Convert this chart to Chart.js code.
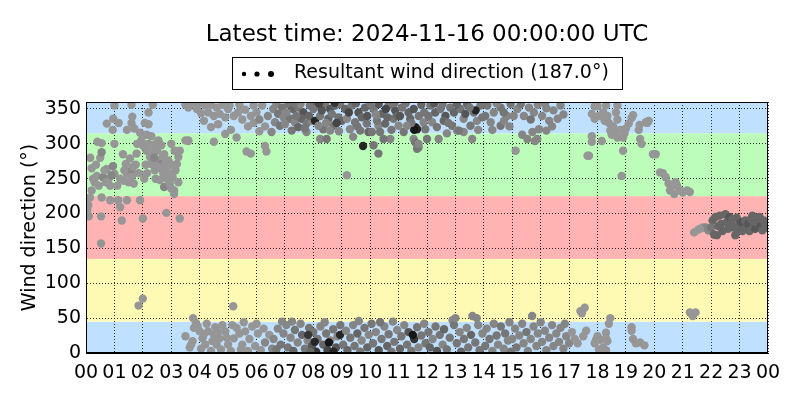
<!DOCTYPE html>
<html><head><meta charset="utf-8">
<script src="https://cdn.jsdelivr.net/npm/chart.js@4/dist/chart.umd.min.js"></script>
<style>html,body{margin:0;padding:0;background:#fff}#wrap{width:800px;height:400px}</style>
</head><body><div id="wrap"><canvas id="c" width="800" height="400"></canvas></div>
<script>
const titleText = "Latest time: 2024-11-16 00:00:00 UTC";
const legendText = "Resultant wind direction (187.0°)";
const yAxisTitle = "Wind direction (°)";
const xTicks = [0,1,2,3,4,5,6,7,8,9,10,11,12,13,14,15,16,17,18,19,20,21,22,23,24];
const xTickLabels = ["00","01","02","03","04","05","06","07","08","09","10","11","12","13","14","15","16","17","18","19","20","21","22","23","00"];
const yTicks = [0,50,100,150,200,250,300,350];
const bandEdges = [0,45,135,225,315,360];
const bandColors = ["#bfe0ff","#fffab3","#ffb3b3","#bbfdb9","#bfe0ff"];

// [hour of day, direction (deg), speed class 1..9]
const wd_00_03 = [[0.05,205,1],[0.1,196,1],[0.08,212,1],[0.14,223,1],[0.2,233,1],[0.25,250,1],[0.2,265,1],[0.38,254,1],[0.35,270,1],[0.5,280,1],[0.55,288,2],[0.55,301,1],[0.73,329,1],[0.53,157,1],[0.53,196,1],[0.55,223,1],[0.85,219,1],[0.73,264,1],[0.8,250,1],[0.85,240,1],[0.96,336,1],[0.94,320,1],[1.0,300,1],[0.95,268,2],[1.0,257,1],[0.3,245,1],[0.45,240,1],[0.6,252,2],[0.65,262,1],[0.9,255,2],[0.7,245,1],[0.15,280,1],[0.4,303,1],
[1.13,219,1],[1.26,190,1],[1.2,209,1],[1.44,219,1],[1.33,247,1],[1.44,257,1],[1.4,271,1],[1.55,279,1],[1.6,262,2],[1.62,253,1],[1.68,243,1],[1.65,267,1],[1.44,320,1],[1.6,330,1],[1.63,339,1],[1.7,322,1],[1.9,316,1],[1.95,305,1],[1.78,286,1],[1.9,219,1],[2.0,193,1],[1.85,68,1],[2.0,78,1],[1.6,356,1],[1.0,355,1],[1.2,250,1],[1.1,240,1],[1.35,262,1],[1.5,245,1],[1.75,270,1],[1.85,258,1],[1.15,330,1],[1.8,300,1],[1.3,285,1],
[2.07,330,1],[2.2,328,1],[2.13,313,1],[2.3,311,1],[2.02,297,1],[2.13,290,1],[2.2,300,1],[2.25,281,1],[2.33,285,1],[2.45,300,1],[2.5,290,1],[2.55,305,1],[2.65,298,1],[2.75,285,1],[2.3,271,1],[2.42,262,1],[2.55,276,1],[2.65,271,2],[2.72,257,1],[2.83,264,1],[2.9,276,1],[2.45,250,1],[2.6,248,1],[2.75,238,2],[2.95,243,1],[2.95,257,1],[2.83,201,1],[2.35,356,1],[2.2,345,1],[2.1,270,1],[2.4,280,2],[2.6,265,1],[2.8,272,1],[2.05,250,1],[2.15,258,1],[2.5,268,1],[2.7,282,1],[2.85,250,1],[2.38,295,1],
[3.0,236,1],[3.05,252,1],[3.1,233,1],[3.1,228,1],[3.15,262,1],[3.2,271,1],[3.25,281,1],[3.3,290,1],[3.25,245,1],[3.3,193,1],[3.5,305,1],[3.6,305,1],[3.02,270,1],[3.12,290,1],[3.0,300,1]];

const wd_03_06 = [[3.5,356,1],[3.75,357,1],[4.0,358,1],[4.05,344,1],[3.6,352,1],[3.9,350,1],[4.2,355,1],[4.4,356,1],[4.6,352,1],[4.8,356,1],[5.0,350,1],[4.3,345,1],[4.5,340,1],[4.7,343,1],[4.9,338,1],[4.4,324,1],[4.5,303,1],[3.6,304,1],[4.9,314,1],[5.3,309,1],[5.1,320,1],[5.65,289,1],[5.8,286,1],[5.4,356,1],[5.6,349,1],[5.8,340,1],[5.9,330,1],[5.2,340,1],[5.5,335,1],[5.7,325,1],[6.0,345,1],[6.1,335,2],[6.2,355,1],[6.3,325,1],[6.4,340,2],[6.3,297,1],[6.35,289,1],[4.15,333,1],[4.65,328,1],[5.05,355,1],[5.35,345,1],[5.9,355,1],[6.1,318,1],
[3.77,50,1],[3.8,36,1],[4.0,31,1],[4.1,21,1],[4.2,12,1],[4.3,31,1],[4.4,3,1],[4.5,26,1],[4.6,12,1],[4.7,21,1],[4.8,40,1],[4.9,31,1],[5.0,12,1],[5.1,3,1],[5.2,21,1],[5.3,36,1],[5.5,12,1],[5.6,31,1],[5.7,3,1],[3.5,24,1],[3.7,12,1],[3.65,8,1],[3.87,43,1],[3.93,38,1],[3.75,17,1],[4.05,6,1],[4.25,42,1],[4.45,17,1],[4.55,37,1],[4.75,5,1],[4.95,22,1],[5.15,40,1],[5.4,28,1],[5.45,5,1],[5.75,20,1],[5.85,38,1],[5.95,10,1],[6.05,28,1],[6.15,4,1],[6.25,35,1],[6.3,15,2],[6.45,26,1],[6.55,6,2],[5.18,67,1],[6.0,42,1],[5.55,44,1],[4.65,30,1],[4.15,27,1]];

const wd_06_09 = [[6.59,350,2],[6.76,343,3],[6.65,331,2],[6.82,326,3],[6.53,317,2],[6.7,357,2],[6.9,352,3],[6.95,338,2],
[7.12,357,3],[7.29,350,4],[7.47,352,3],[7.65,345,5],[7.88,355,3],[7.18,336,3],[7.35,331,2],[7.59,336,4],[7.76,329,3],[7.94,333,2],[7.24,319,3],[7.47,324,4],[7.76,317,2],[7.05,345,2],[7.4,340,3],[7.55,357,2],[7.7,322,3],[7.85,340,4],[7.3,358,3],[7.0,328,2],
[8.06,333,8],[8.24,307,2],[8.47,307,3],[8.35,321,3],[8.12,355,4],[8.41,357,3],[8.59,350,5],[8.76,355,4],[8.94,357,3],[8.24,340,3],[8.53,336,4],[8.88,338,3],[8.18,326,2],[8.71,326,3],[9.0,333,4],[8.59,319,2],[8.3,348,5],[8.65,343,3],[8.82,330,6],[8.45,330,2],[8.0,350,3],[8.9,318,2],[8.2,358,6],[8.75,359,7],
[6.6,20,2],[6.7,5,3],[6.75,35,2],[6.85,12,3],[6.95,28,2],[7.05,40,2],[7.1,8,3],[7.2,22,2],[7.3,3,4],[7.35,33,3],[7.45,15,2],[7.55,42,2],[7.6,26,4],[7.7,6,3],[7.8,18,2],[7.85,36,3],[7.95,10,5],[8.0,30,3],[8.1,2,7],[8.15,20,3],[8.25,38,2],[8.35,12,4],[8.45,28,3],[8.5,4,6],[8.6,18,2],[8.7,34,3],[8.8,8,5],[8.85,24,2],[8.95,40,3],[8.4,44,2],[7.25,45,2],[6.9,45,2],[8.05,16,8],[8.55,15,9],[7.9,2,4],[7.82,26,7],[8.71,2,8],[8.94,26,8]];

const wd_09_12 = [[9.12,350,4],[9.35,355,3],[9.59,345,5],[9.82,352,4],[10.0,357,3],[9.18,336,2],[9.47,331,3],[9.71,338,4],[9.88,329,3],[9.29,321,2],[9.65,319,3],[9.94,317,4],[9.75,297,8],[10.12,298,3],[10.29,286,3],[10.06,317,3],[10.29,326,2],[9.18,255,1],[9.25,345,6],[9.5,358,4],[9.9,340,5],[9.4,310,2],[9.55,325,3],
[10.12,350,3],[10.41,343,4],[10.65,355,3],[10.88,348,5],[10.24,333,3],[10.53,329,4],[10.82,336,3],[11.0,326,2],[10.35,317,3],[10.71,307,2],[10.47,307,3],[10.3,357,5],[10.55,350,6],[10.75,320,3],[10.95,340,4],[10.2,342,2],[10.6,338,4],[10.85,358,3],
[11.12,352,3],[11.35,345,4],[11.53,350,5],[11.71,340,3],[11.88,331,2],[11.41,336,4],[11.59,324,9],[11.65,321,8],[11.55,320,9],[11.18,317,3],[11.53,307,2],[11.59,302,3],[11.71,295,2],[11.94,321,3],[12.0,307,3],[11.65,293,3],[11.7,300,2],[11.25,358,3],[11.45,330,3],[11.8,356,4],[11.05,340,5],[11.3,326,2],[11.9,345,3],
[9.05,12,3],[9.15,32,2],[9.2,4,4],[9.3,22,3],[9.4,40,2],[9.45,10,3],[9.55,28,4],[9.65,2,3],[9.7,18,2],[9.8,36,3],[9.9,8,4],[9.95,26,2],[10.05,42,3],[10.1,14,3],[10.2,30,2],[10.3,4,5],[10.4,20,3],[10.5,38,2],[10.6,10,4],[10.65,27,3],[10.75,2,3],[10.8,45,2],[10.85,16,3],[10.95,33,2],[11.05,6,4],[11.1,24,3],[11.2,40,2],[11.3,12,3],[11.35,30,5],[11.45,3,3],[11.55,20,7],[11.65,37,3],[11.7,8,2],[11.8,25,3],[11.9,42,2],[11.95,14,3],[11.5,26,9],[10.35,44,3],[9.6,46,2]];

const wd_12_15 = [[12.12,355,3],[12.29,345,4],[12.47,350,3],[12.65,340,5],[12.82,352,3],[12.18,331,2],[12.35,324,3],[12.41,307,2],[12.88,326,3],[13.06,319,2],[12.59,333,4],[12.25,358,5],[12.55,357,3],[12.75,330,3],[12.95,345,4],[12.05,340,3],[12.7,315,2],
[13.18,350,3],[13.41,357,4],[13.65,345,3],[13.88,355,3],[13.29,336,2],[13.53,326,3],[13.76,333,2],[13.59,307,2],[13.71,348,8],[13.29,317,2],[13.12,319,3],[13.35,343,5],[13.5,352,3],[13.95,338,3],[13.8,320,2],[13.05,357,4],
[14.12,355,3],[14.35,345,2],[14.59,352,3],[14.82,340,2],[14.94,357,3],[14.24,331,2],[14.59,326,3],[14.71,333,2],[14.05,340,3],[14.45,358,2],[14.7,345,3],[14.3,320,2],[14.9,325,2],
[12.05,30,3],[12.1,8,4],[12.2,20,2],[12.3,38,3],[12.35,3,5],[12.45,26,3],[12.55,12,2],[12.6,34,4],[12.7,5,3],[12.8,22,3],[12.9,47,2],[12.95,40,3],[13.0,50,2],[13.05,14,3],[13.15,30,2],[13.2,2,4],[13.3,20,3],[13.4,36,2],[13.45,8,3],[13.55,26,4],[13.6,53,2],[13.75,50,2],[13.7,15,3],[13.8,40,2],[13.85,4,3],[13.95,28,2],[14.05,10,3],[14.1,35,2],[14.2,20,3],[14.3,3,2],[14.35,42,2],[14.45,25,3],[14.5,12,2],[14.6,38,3],[14.7,6,2],[14.75,28,3],[14.85,18,2],[14.9,44,2],[14.95,2,3]];

const wd_15_18 = [[15.18,350,2],[15.41,340,2],[15.59,352,2],[15.76,345,2],[15.94,321,2],[15.71,317,2],[15.88,307,2],[15.53,307,2],[15.12,290,1],[15.8,304,2],[15.35,313,2],[15.3,357,3],[15.05,340,2],[15.65,335,3],[15.9,356,2],
[16.2,351,2],[16.6,336,2],[16.3,333,2],[16.2,319,2],[16.45,348,2],[16.7,355,2],[16.05,340,2],[16.4,325,2],[16.15,358,2],[16.8,342,2],
[17.65,283,1],[17.7,283,1],[17.8,343,1],[17.9,336,1],[17.8,311,1],[17.8,303,1],[17.9,354,1],
[15.0,20,2],[15.1,35,2],[15.15,8,3],[15.25,25,2],[15.35,42,2],[15.4,14,2],[15.5,30,3],[15.55,3,2],[15.7,53,2],[15.65,20,2],[15.75,38,2],[15.85,10,2],[15.9,28,2],[16.0,44,2],[16.05,16,2],[16.15,32,2],[16.2,4,2],[16.3,22,2],[16.4,40,2],[16.45,10,2],[16.55,28,2],[16.65,16,2],[16.7,36,2],[16.8,6,2],[16.9,24,2],[17.0,14,2],[17.1,30,1],[17.2,20,1],[17.3,14,1],[17.45,57,1],[17.55,65,1],[17.4,60,1],[17.5,24,1],[17.6,32,1],[17.9,14,1],[17.95,19,1],[16.85,42,2]];

const wd_18_21 = [[18.0,354,1],[18.05,340,1],[18.15,304,1],[18.25,333,1],[18.4,330,1],[18.45,319,1],[18.6,317,1],[18.9,309,1],[19.1,329,1],[19.2,337,1],[19.25,341,1],[18.7,335,1],[18.65,345,1],[18.55,325,1],[18.5,313,1],[18.7,309,1],[18.9,290,1],[18.85,254,1],[19.5,307,1],[19.55,300,1],[19.45,320,1],[19.48,327,1],[19.7,331,1],[19.8,333,1],[19.75,330,1],[19.95,285,1],[20.05,285,1],[18.3,355,1],[18.7,355,1],[18.8,320,1],[18.2,345,1],[18.35,340,1],[19.0,322,1],[18.95,315,1],
[20.2,259,1],[20.3,258,1],[20.4,252,1],[20.5,243,1],[20.55,233,1],[20.7,228,1],[20.8,240,1],[20.6,238,1],[21.0,230,1],[20.9,233,1],[21.15,233,1],[21.25,231,1],[20.75,245,1],
[18.0,24,1],[18.1,19,1],[18.2,8,1],[18.45,50,1],[18.4,42,1],[18.3,29,1],[18.3,21,1],[18.35,17,1],[19.2,37,1],[19.2,32,1],[19.25,20,1],[19.35,14,1],[19.5,15,1],[19.65,11,1],[18.05,5,1],[18.3,4,1]];

const wd_21_24 = [[21.25,58,1],[21.45,58,1],[21.35,53,1],
[21.4,173,1],[21.55,177,1],[21.7,180,1],[21.8,180,2],[21.6,178,1],[21.9,176,2],[22.05,190,4],[22.0,180,3],[22.1,170,4],[22.2,169,4],[22.15,195,4],[22.3,197,4],[22.35,185,4],[22.4,175,4],[22.5,199,4],[22.55,188,4],[22.6,178,4],[22.65,195,5],[22.7,185,4],[22.8,180,4],[22.85,169,4],[22.9,194,4],[22.95,183,4],[23.0,178,4],[23.05,188,5],[23.1,175,4],[23.2,190,4],[23.25,180,4],[23.3,185,5],[23.35,175,4],[23.4,192,4],[23.5,183,4],[23.55,178,5],[23.6,188,4],[23.7,195,4],[23.75,182,5],[23.8,176,4],[23.85,190,4],[23.9,185,4],[23.95,180,4],[23.45,197,4],[22.25,182,4],[22.75,192,4]];

const allObs = [].concat(wd_00_03, wd_03_06, wd_06_09, wd_09_12, wd_12_15, wd_15_18, wd_18_21, wd_21_24);
function grayFor(s){ const g = Math.round(166 - 16*s); return `rgb(${g},${g},${g})`; }

const FONT = "'DejaVu Sans', sans-serif";
Chart.defaults.font.family = FONT;
Chart.defaults.color = '#000';

const bandsPlugin = {
  id: 'bands',
  beforeDraw(chart){
    const {ctx, chartArea:a, scales:{y}} = chart;
    ctx.save();
    ctx.fillStyle = '#fff'; ctx.fillRect(0,0,chart.width,chart.height);
    for (let i=0;i<bandColors.length;i++){
      const y0 = y.getPixelForValue(bandEdges[i]), y1 = y.getPixelForValue(bandEdges[i+1]);
      ctx.fillStyle = bandColors[i];
      ctx.fillRect(a.left, y1, a.right-a.left, y0-y1);
    }
    ctx.restore();
  }
};
const decorPlugin = {
  id: 'decor',
  afterDraw(chart){
    const {ctx, chartArea:a} = chart;
    ctx.save();
    ctx.strokeStyle = '#000'; ctx.lineWidth = 1;
    ctx.strokeRect(Math.round(a.left)+0.5, Math.round(a.top)+0.5, Math.round(a.right-a.left)-1, Math.round(a.bottom-a.top)-1);
    ctx.fillStyle = '#000';
    ctx.textAlign = 'center'; ctx.textBaseline = 'middle';
    ctx.font = `23px ${FONT}`;
    ctx.fillText(titleText, (a.left+a.right)/2, 35);
    ctx.fillStyle = '#fff';
    ctx.fillRect(232.5, 57.5, 390, 32);
    ctx.strokeRect(232.5, 57.5, 390, 32);
    ctx.fillStyle = '#000';
    [[244,2.2],[257,2.6],[271,3.0]].forEach(([x,r])=>{ ctx.beginPath(); ctx.arc(x,74,r,0,Math.PI*2); ctx.fill(); });
    ctx.textAlign = 'left';
    ctx.font = `19px ${FONT}`;
    ctx.fillText(legendText, 294, 73);
    ctx.translate(30, (a.top+a.bottom)/2);
    ctx.rotate(-Math.PI/2);
    ctx.textAlign = 'center';
    ctx.fillText(yAxisTitle, 0, 0);
    ctx.restore();
  }
};

new Chart(document.getElementById('c'), {
  type: 'scatter',
  data: {
    datasets: [{
      label: legendText,
      data: allObs.map(p => ({x: p[0], y: p[1]})),
      pointBackgroundColor: allObs.map(p => grayFor(p[2])),
      pointBorderWidth: 0,
      pointRadius: 4.2,
      pointHoverRadius: 4.2,
      clip: 0
    }]
  },
  options: {
    responsive: false,
    devicePixelRatio: 1,
    animation: false,
    events: [],
    layout: { padding: { top: 102, right: 32, left: 0, bottom: 0 } },
    plugins: { legend: { display: false }, tooltip: { enabled: false }, title: { display: false } },
    scales: {
      x: {
        type: 'linear', min: 0, max: 24,
        afterBuildTicks: s => { s.ticks = xTicks.map(v => ({value: v})); },
        afterFit: s => { s.height = 47; },
        ticks: { callback: (v, i) => xTickLabels[i], font: { size: 19 }, color: '#000', padding: 9, maxRotation: 0, autoSkip: false },
        grid: { color: 'rgba(0,0,0,0.8)', lineWidth: 1, drawTicks: false },
        border: { color: '#000', width: 1, dash: [1, 2] }
      },
      y: {
        type: 'linear', min: 0, max: 360,
        afterBuildTicks: s => { s.ticks = yTicks.map(v => ({value: v})); },
        afterFit: s => { s.width = 86; },
        ticks: { callback: v => String(v), font: { size: 19 }, color: '#000', padding: 5 },
        grid: { color: 'rgba(0,0,0,0.8)', lineWidth: 1, drawTicks: false },
        border: { color: '#000', width: 1, dash: [1, 2] }
      }
    }
  },
  plugins: [bandsPlugin, decorPlugin]
});
</script></body></html>
